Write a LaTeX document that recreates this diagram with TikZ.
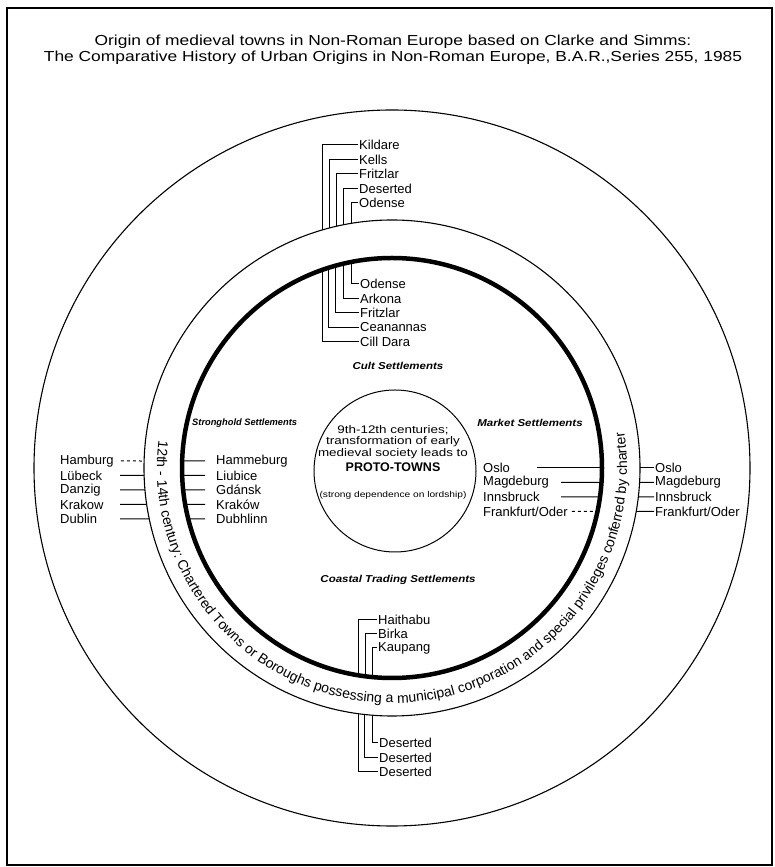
\documentclass[tikz,border=0pt]{standalone}
\usepackage{fontspec}
\setmainfont{Liberation Sans}
\usetikzlibrary{calc,decorations.text}
\begin{document}
\begin{tikzpicture}[x=1pt,y=1pt,
  town/.style={inner sep=1pt, font=\fontsize{13}{13}\selectfont},
  tw/.style={town, anchor=west},
  cat/.style={inner sep=1pt, font=\fontsize{10}{10}\selectfont\bfseries\itshape},
  ring/.style={line width=1.1pt},
  link/.style={line width=1pt}]
\useasboundingbox (0,0) rectangle (774,867);
\draw[line width=1.6pt] (7,2) rectangle (772,859);
% title
\node[font=\fontsize{14.5}{16}\selectfont] (title1) at (393,825)
  {\scalebox{1.2}[1]{Origin of medieval towns in Non-Roman Europe based on Clarke and Simms:}};
\node[font=\fontsize{14.5}{16}\selectfont] (title2) at (393,809)
  {\scalebox{1.2}[1]{The Comparative History of Urban Origins in Non-Roman Europe, B.A.R.,Series 255, 1985}};
% circles
\coordinate (C) at (392,399);
\draw[ring] (C) circle (358);
\draw[ring] (C) circle (248);
\draw[line width=4.5pt] (C) circle (210);
\node[circle, draw, line width=1pt, minimum size=162pt, inner sep=0pt] (core) at (395,396) {};
% core text
\node[font=\fontsize{11}{12}\selectfont] (ct1) at (393,437) {\scalebox{1.22}[1]{9th-12th centuries;}};
\node[font=\fontsize{11}{12}\selectfont] (ct2) at (393,425) {\scalebox{1.22}[1]{transformation of early}};
\node[font=\fontsize{11}{12}\selectfont] (ct3) at (393,413) {\scalebox{1.22}[1]{medieval society leads to}};
\node[font=\fontsize{12.5}{13}\selectfont\bfseries] (proto) at (393,400) {PROTO-TOWNS};
\node[font=\fontsize{8.5}{9}\selectfont] (lord) at (393,372) {\scalebox{1.2}[1]{(strong dependence on lordship)}};
% ring text
\path[decorate, decoration={text along path, text align=center,
  text={|\fontsize{14}{14}\selectfont|12th - 14th century: Chartered Towns or Boroughs possessing a municipal corporation and special privileges conferred by charter}}]
  ($(C)+(165:235)$) arc (165:377:235);
% category labels
\node[cat] (cult) at (398,501) {\scalebox{1.15}[1]{Cult Settlements}};
\node[cat, anchor=west, font=\fontsize{9.3}{9.3}\selectfont\bfseries\itshape] (strong) at (191,444) {Stronghold Settlements};
\node[cat] (market) at (530,444) {\scalebox{1.15}[1]{Market Settlements}};
\node[cat] (coast) at (398,287) {\scalebox{1.15}[1]{Coastal Trading Settlements}};
% top outer list
\node[tw] (k1) at (358,722) {Kildare};
\node[tw] (k2) at (358,707.5) {Kells};
\node[tw] (k3) at (358,693) {Fritzlar};
\node[tw] (k4) at (358,678.5) {Deserted};
\node[tw] (k5) at (358,664) {Odense};
\draw[link] (k1.west) -| ($(C)+({acos(-70/248)}:248)$);
\draw[link] (k2.west) -| ($(C)+({acos(-63/248)}:248)$);
\draw[link] (k3.west) -| ($(C)+({acos(-56/248)}:248)$);
\draw[link] (k4.west) -| ($(C)+({acos(-49/248)}:248)$);
\draw[link] (k5.west) -| ($(C)+({acos(-41/248)}:248)$);
% top inner list
\node[tw] (c1) at (359,583) {Odense};
\node[tw] (c2) at (359,568.5) {Arkona};
\node[tw] (c3) at (359,554) {Fritzlar};
\node[tw] (c4) at (359,539.5) {Ceanannas};
\node[tw] (c5) at (359,525) {Cill Dara};
\draw[link] (c1.west) -| ($(C)+({acos(-41/210)}:210)$);
\draw[link] (c2.west) -| ($(C)+({acos(-49/210)}:210)$);
\draw[link] (c3.west) -| ($(C)+({acos(-57/210)}:210)$);
\draw[link] (c4.west) -| ($(C)+({acos(-64/210)}:210)$);
\draw[link] (c5.west) -| ($(C)+({acos(-70/210)}:210)$);
% left outer list
\coordinate (ls) at (120,0);
\node[tw] (h1) at (59,406) {Hamburg};
\node[tw] (h2) at (59,391.5) {Lübeck};
\node[tw] (h3) at (59,377) {Danzig};
\node[tw] (h4) at (59,362.5) {Krakow};
\node[tw] (h5) at (59,348) {Dublin};
\draw[link, dashed] ([xshift=6pt]h1.east) -- ($(C)+({180-asin(7/248)}:248)$);
\draw[link] (h2.east -| ls) -- ($(C)+({180-asin(-7.5/248)}:248)$);
\draw[link] (h3.east -| ls) -- ($(C)+({180-asin(-22/248)}:248)$);
\draw[link] (h4.east -| ls) -- ($(C)+({180-asin(-36.5/248)}:248)$);
\draw[link] (h5.east -| ls) -- ($(C)+({180-asin(-51/248)}:248)$);
% left inner list
\coordinate (ie) at (205,0);
\node[tw] (g1) at (215,406) {Hammeburg};
\node[tw] (g2) at (215,391.5) {Liubice};
\node[tw] (g3) at (215,377) {Gdánsk};
\node[tw] (g4) at (215,362.5) {Kraków};
\node[tw] (g5) at (215,348) {Dubhlinn};
\draw[link] ($(C)+({180-asin(7/210)}:210)$) -- (g1.west -| ie);
\draw[link] ($(C)+({180-asin(-7.5/210)}:210)$) -- (g2.west -| ie);
\draw[link] ($(C)+({180-asin(-22/210)}:210)$) -- (g3.west -| ie);
\draw[link] ($(C)+({180-asin(-36.5/210)}:210)$) -- (g4.west -| ie);
\draw[link] ($(C)+({180-asin(-51/210)}:210)$) -- (g5.west -| ie);
% right inner list
\coordinate (os) at (537,0);
\coordinate (ms) at (561,0);
\node[tw] (m1) at (482,399) {Oslo};
\node[tw] (m2) at (482,384.5) {Magdeburg};
\node[tw] (m3) at (482,370) {Innsbruck};
\node[tw] (m4) at (482,355.5) {Frankfurt/Oder};
\draw[link] (m1.east -| os) -- ($(C)+({asin(0/210)}:210)$);
\draw[link] (m2.east -| ms) -- ($(C)+({asin(-14.5/210)}:210)$);
\draw[link] (m3.east -| ms) -- ($(C)+({asin(-29/210)}:210)$);
\draw[link, dashed] ([xshift=3pt]m4.east) -- ($(C)+({asin(-43.5/210)}:210)$);
% right outer list
\node[tw] (r1) at (654,399) {Oslo};
\node[tw] (r2) at (654,384.5) {Magdeburg};
\node[tw] (r3) at (654,370) {Innsbruck};
\node[tw] (r4) at (654,355.5) {Frankfurt/Oder};
\draw[link] ($(C)+({asin(0/248)}:248)$) -- (r1.west);
\draw[link] ($(C)+({asin(-14.5/248)}:248)$) -- (r2.west);
\draw[link] ($(C)+({asin(-29/248)}:248)$) -- (r3.west);
\draw[link] ($(C)+({asin(-43.5/248)}:248)$) -- (r4.west);
% bottom inner list
\node[tw] (b1) at (377,247) {Haithabu};
\node[tw] (b2) at (377,233) {Birka};
\node[tw] (b3) at (377,219) {Kaupang};
\draw[link] (b1.west) -| ($(C)+({-acos(-34/210)}:210)$);
\draw[link] (b2.west) -| ($(C)+({-acos(-27/210)}:210)$);
\draw[link] (b3.west) -| ($(C)+({-acos(-20/210)}:210)$);
% bottom outer list
\node[tw] (d1) at (378,124) {Deserted};
\node[tw] (d2) at (378,109.5) {Deserted};
\node[tw] (d3) at (378,95) {Deserted};
\draw[link] (d1.west) -| ($(C)+({-acos(-20/248)}:248)$);
\draw[link] (d2.west) -| ($(C)+({-acos(-28/248)}:248)$);
\draw[link] (d3.west) -| ($(C)+({-acos(-34/248)}:248)$);
\end{tikzpicture}
\end{document}
